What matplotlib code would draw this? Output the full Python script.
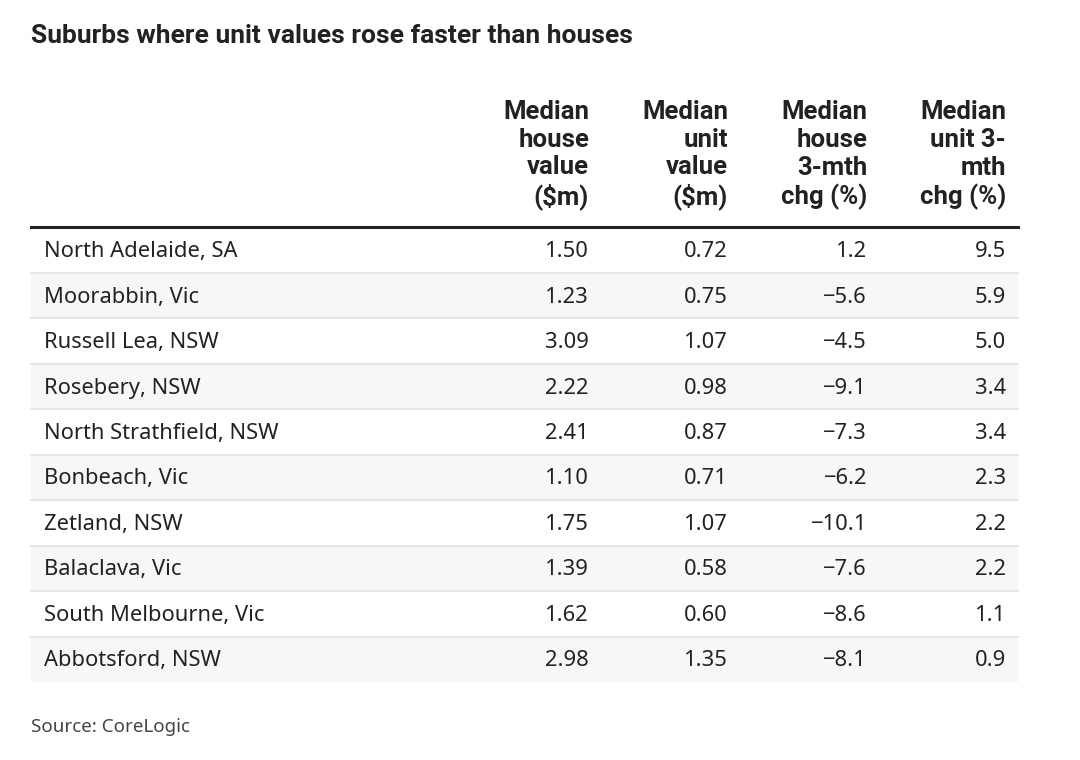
import matplotlib
matplotlib.use("Agg")
import matplotlib.pyplot as plt
from matplotlib.patches import Rectangle

plt.rcParams['font.family'] = ['Noto Sans', 'DejaVu Sans']

title = "Suburbs where unit values rose faster than houses"
source = "Source: CoreLogic"
headers = ["Median\nhouse\nvalue\n($m)", "Median\nunit\nvalue\n($m)",
           "Median\nhouse\n3-mth\nchg (%)", "Median\nunit 3-\nmth\nchg (%)"]
suburbs = ["North Adelaide, SA", "Moorabbin, Vic", "Russell Lea, NSW", "Rosebery, NSW",
           "North Strathfield, NSW", "Bonbeach, Vic", "Zetland, NSW", "Balaclava, Vic",
           "South Melbourne, Vic", "Abbotsford, NSW"]
house_value = [1.50, 1.23, 3.09, 2.22, 2.41, 1.10, 1.75, 1.39, 1.62, 2.98]
unit_value = [0.72, 0.75, 1.07, 0.98, 0.87, 0.71, 1.07, 0.58, 0.60, 1.35]
house_chg = [1.2, -5.6, -4.5, -9.1, -7.3, -6.2, -10.1, -7.6, -8.6, -8.1]
unit_chg = [9.5, 5.9, 5.0, 3.4, 3.4, 2.3, 2.2, 2.2, 1.1, 0.9]

W, H = 1080, 760
fig = plt.figure(figsize=(W / 100, H / 100), dpi=100)
ax = fig.add_axes([0, 0, 1, 1])
ax.set_xlim(0, W)
ax.set_ylim(H, 0)
ax.axis('off')

bold_family = ['Roboto', 'DejaVu Sans']
text_color = "#222222"
ax.text(31, 36, title, fontsize=19, fontweight='bold', family=bold_family,
        color=text_color, va='center', ha='left')

col_right = [589, 728, 867, 1006]
x_left, x_right = 31, 1018
for xr, hdr in zip(col_right, headers):
    ax.text(xr, 155, hdr, fontsize=18.5, fontweight='bold', family=bold_family, color=text_color,
            ha='right', va='center', linespacing=1.2)

top = 227.5
row_h = 45.45
fmt_cols = [
    [f"{v:.2f}" for v in house_value],
    [f"{v:.2f}" for v in unit_value],
    [f"{v:.1f}".replace("-", "\u2212") for v in house_chg],
    [f"{v:.1f}".replace("-", "\u2212") for v in unit_chg],
]
for i, name in enumerate(suburbs):
    y0 = top + i * row_h
    if i % 2 == 1:
        ax.add_patch(Rectangle((x_left, y0), x_right - x_left, row_h, facecolor="#f7f7f7", edgecolor='none', zorder=0))
    if i > 0:
        ax.plot([x_left, x_right], [y0, y0], color="#e2e2e2", lw=1.2, zorder=1)
    yc = y0 + row_h / 2 + 1.5
    ax.text(44, yc, name, fontsize=15.8, color=text_color, ha='left', va='center')
    for xr, col in zip(col_right, fmt_cols):
        ax.text(xr, yc, col[i], fontsize=15.8, color=text_color, ha='right', va='center')

ax.plot([x_left, x_right], [226.5, 226.5], color="#222222", lw=2.2, zorder=2)

ax.text(31, 727, source, fontsize=13.5, color="#444444", ha='left', va='center')

fig.savefig("out.png", dpi=100, facecolor='white')
